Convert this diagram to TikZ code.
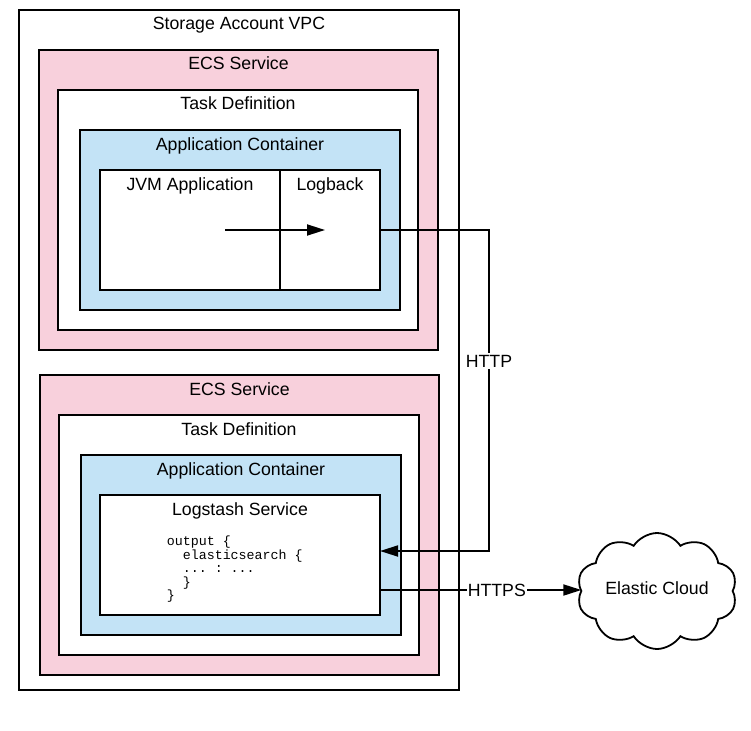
\documentclass[tikz,border=0pt]{standalone}
\usepackage{fontspec}
\setmainfont{Liberation Sans}
\setmonofont{Liberation Mono}
\usetikzlibrary{arrows.meta,shapes.symbols}
\definecolor{ecspink}{HTML}{F8D0DC}
\definecolor{appblue}{HTML}{C3E3F6}

\begin{document}
\begin{tikzpicture}[x=1pt,y=-1pt,>={Triangle[length=18pt,width=11pt]},
      line width=1.8pt,font=\fontsize{17.7}{21}\selectfont,
      box/.style={rectangle,draw,inner sep=0,outer sep=0},
      service/.style={box,fill=ecspink},
      container/.style={box,fill=appblue},
      plain/.style={box,fill=white},
      title/.style={inner sep=0,anchor=base}]
      \useasboundingbox (0,0) rectangle (751,730);

      \node[plain] (vpc) at (239, 350) [minimum width=440, minimum height=680] {};
      \node[title] (vpct) at (239, 30) { Storage Account VPC };

      % upper service
      \node[service] (ecs1) at (238.5, 200) [minimum width=399, minimum height=300] {};
      \node[title] (ecs1t) at (238.5, 70) { ECS Service };
      \node[plain] (task1) at (238, 210) [minimum width=360, minimum height=240] {};
      \node[title] (task1t) at (238, 110) { Task Definition };
      \node[container] (app1) at (240, 220) [minimum width=320, minimum height=180] {};
      \node[title] (app1t) at (240, 150) { Application Container };
      \node[plain] (jvm) at (190, 230) [minimum width=180, minimum height=120] {};
      \node[title] (jvmt) at (190, 190) { JVM Application };
      \node[plain] (lb) at (330, 230) [minimum width=100, minimum height=120] {};
      \node[title] (lbt) at (330, 190) { Logback };

      % lower service
      \node[service] (ecs2) at (239.5, 525) [minimum width=399, minimum height=300] {};
      \node[title] (ecs2t) at (239.5, 395) { ECS Service };
      \node[plain] (task2) at (239, 535) [minimum width=360, minimum height=240] {};
      \node[title] (task2t) at (239, 435) { Task Definition };
      \node[container] (app2) at (241, 545) [minimum width=320, minimum height=180] {};
      \node[title] (app2t) at (241, 475) { Application Container };
      \node[plain] (ls) at (240, 555) [minimum width=280, minimum height=120] {};
      \node[title] (lst) at (240, 515) { Logstash Service };
      \node[inner sep=0, anchor=north west, align=left,
            font=\ttfamily\fontsize{13.3}{13.5}\selectfont] (code) at (166, 535)
            { output \{\\\hphantom{xx}elasticsearch \{\\\hphantom{xx}... : ...\\\hphantom{xx}\}\\\} };

      \node[cloud, draw, cloud puffs=10, cloud puff arc=115, aspect=1.4,
            minimum width=160, minimum height=116, inner sep=0, outer sep=0]
            (cloud) at (657, 591) {};
      \node[inner sep=0] (cloudt) at (657, 588) { Elastic Cloud };

      \coordinate (jvmout) at (225, 230);
      \coordinate (lbin) at (325, 230);
      \coordinate (lsin) at (380, 551);
      \coordinate (lsout) at (380, 590);

      \path[->]
      (jvmout) edge (lbin)
      (lsout) edge node [pos=0.58, fill=white, inner sep=1pt] (httpst) { HTTPS } (cloud.west |- lsout);

      \draw[->] (lb.east) -- (489, 230) -- (489, 551) -- (lsin);
      \node[fill=white, inner sep=2pt] (httpt) at (489, 361) { HTTP };
\end{tikzpicture}
\end{document}
